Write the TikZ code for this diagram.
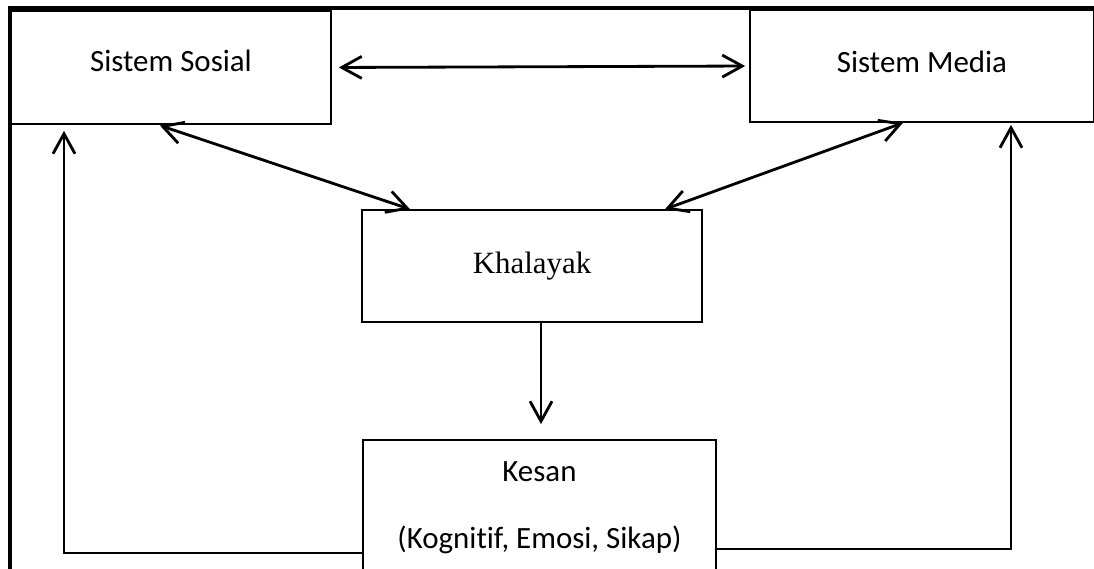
\documentclass[tikz,border=0pt]{standalone}
\usepackage{fontspec}
\setmainfont{Carlito}[Ligatures=NoCommon]
\newfontfamily\hurufkhalayak{Liberation Serif}
\usetikzlibrary{arrows.meta}
\tikzset{
	kotak/.style={draw, line width=1.2pt, rectangle, inner sep=0pt, font=\fontsize{22}{26}\selectfont},
	panah/.style={line width=2pt},
	>={Straight Barb[length=0.5cm,width=0.55cm]}
}

\begin{document}
\begin{tikzpicture}
	\useasboundingbox (0,0) rectangle (27.35,-14.225);
	%bingkai
	\draw [line width=2.2pt] (0.25,-14.225) -- (0.25,-0.2) -- (27.35,-0.2);
	
	\node [kotak, minimum width=8cm, minimum height=2.825cm, text depth=0.35cm] (sosial) at (4.275,-1.6875) {Sistem Sosial};
	\node [kotak, minimum width=8.6cm, minimum height=2.8cm, text depth=0.2cm] (media) at (23.05,-1.65) {Sistem Media};
	\node [kotak, minimum width=8.5cm, minimum height=2.8cm, font=\hurufkhalayak\fontsize{22}{26}\selectfont] (khalayak) at (13.3,-6.65) {Khalayak};
	\node [kotak, minimum width=8.825cm, minimum height=3.4cm, align=center, font=\fontsize{22}{47.7}\selectfont] (kesan) at (13.4875,-12.7) {Kesan\\(Kognitif, Emosi, Sikap)};
	
	\draw [panah, <->, shorten <=0.175cm, shorten >=0.1cm] (sosial.east) -- (media.west);
	\draw [panah, <->, shorten <=0.05cm] ([xshift=-0.325cm]sosial.south) -- ([xshift=-3.05cm]khalayak.north);
	\draw [panah, <->] ([xshift=-0.475cm]media.south) -- ([xshift=3.325cm]khalayak.north);
	\draw [panah, ->, shorten >=0.375cm] ([xshift=0.225cm]khalayak.south) -- ([xshift=0.225cm]khalayak.south |- kesan.north);
	
	%umpan balik
	\draw [panah, ->, shorten >=0.15cm] ([yshift=-1.125cm]kesan.west) -| ([xshift=-2.675cm]sosial.south);
	\draw [panah, ->, shorten >=0.05cm] ([yshift=-1.025cm]kesan.east) -| ([xshift=2.225cm]media.south);
	
\end{tikzpicture}
\end{document}
